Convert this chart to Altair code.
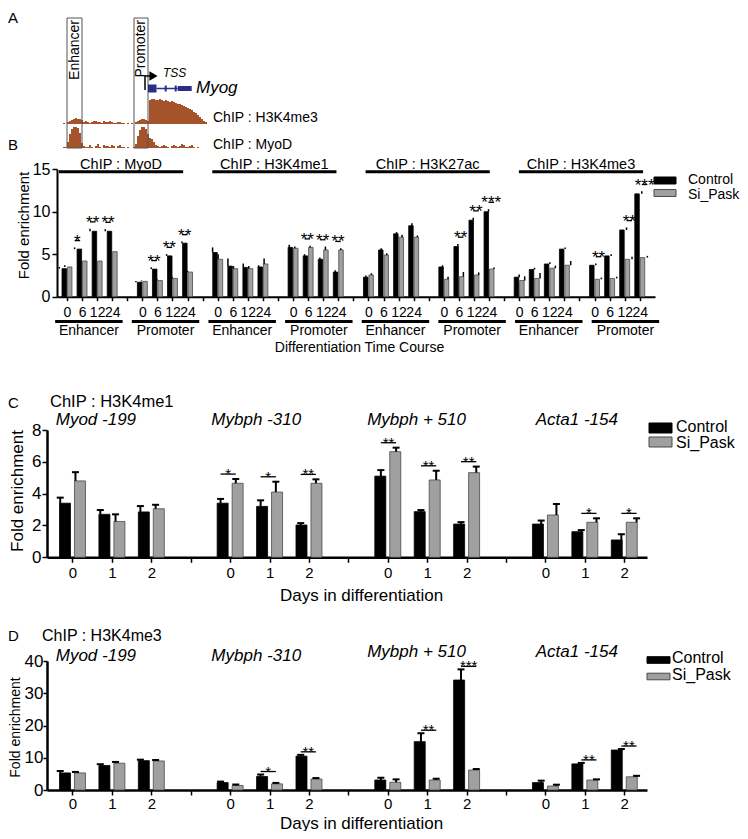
import altair as alt
import pandas as pd

FONT = "Liberation Sans"
W, H = 732, 823
COND = ["Control", "Si_Pask"]
FILL = ["#000000", "#a0a0a0"]
EDGE = ["#000000", "#4a4a4a"]
FILL_SCALE = alt.Scale(domain=COND, range=FILL)
EDGE_SCALE = alt.Scale(domain=COND, range=EDGE)

# ---------------- Panel A : genome browser schematic ----------------
A_BOX_LABELS = ["Enhancer", "Promoter"]
A_BOX_START = [4, 71]
A_BOX_END = [19, 85]
A_TRACK_LABELS = ["ChIP : H3K4me3", "ChIP : MyoD"]
A_BIN = 2
A_H3K4ME3 = [1, 0, 2, 3, 4, 5, 6, 5, 5, 4,
             2, 3, 2, 1, 2, 3, 3, 2, 2, 1, 3, 2, 2, 3, 2, 1, 1, 2, 2, 1, 1,
             0, 1, 0, 1, 0,
             2, 3, 4, 5, 5, 4, 3,
             24, 25, 25, 24, 24, 25, 24, 23, 24, 23, 22, 23, 22, 21, 20, 20,
             19, 18, 17, 16, 15, 14, 12, 11, 9, 7, 5, 3, 2]
A_MYOD = [1, 1, 6, 14, 19, 21, 21, 20, 15, 5,
          2, 1, 1, 3, 1, 0, 2, 4, 1, 0, 3, 2, 2, 1, 3, 2, 0, 2, 3, 1, 1,
          0, 1, 0, 0, 1,
          4, 12, 18, 21, 21, 19, 14,
          10, 9, 6, 3, 2, 1, 2, 3, 2, 1, 0, 2, 3, 2, 1, 2, 4, 3, 1, 1,
          2, 3, 1, 0, 1, 0, 0, 0, 0]
A_GENE = "Myog"
A_TSS = 82
A_ARROW_END = 88
A_ARROW_HEAD = 90.5
A_EXON_START = [85, 114.7]
A_EXON_END = [93.5, 128.7]
A_SMALL_EXONS = [102.7, 112.7]

# ---------------- Panel B ----------------
B_CHIPS = ["MyoD", "H3K4me1", "H3K27ac", "H3K4me3"]
B_REGIONS = ["Enhancer", "Promoter"]
B_TIMES = ["0", "6", "12", "24"]
B_CTRL = [[3.3, 5.6, 7.7, 7.7], [1.7, 3.25, 4.8, 6.3],
          [5.2, 3.6, 3.45, 3.5], [5.8, 4.8, 4.4, 2.9],
          [2.3, 5.5, 7.4, 8.35], [3.5, 5.9, 9.0, 10.0],
          [2.3, 3.2, 3.85, 5.6], [3.7, 4.8, 7.85, 12.1]]
B_CTRL_ERR = [[0.2, 0.2, 0.3, 0.25], [0.15, 0.2, 0.2, 0.2],
              [0.6, 0.9, 0.45, 0.2], [0.3, 0.2, 0.2, 0.2],
              [0.2, 0.2, 0.2, 0.3], [0.2, 0.3, 0.3, 0.3],
              [0.3, 0.2, 0.2, 0.2], [0.2, 0.2, 0.3, 0.3]]
B_SI = [[3.5, 4.2, 4.2, 5.3], [1.8, 1.9, 2.15, 2.9],
        [4.4, 3.3, 3.3, 3.85], [5.7, 5.8, 5.5, 5.5],
        [2.55, 4.9, 7.0, 7.0], [2.05, 2.35, 2.55, 3.25],
        [1.9, 2.15, 3.35, 3.7], [2.05, 2.15, 4.4, 4.6]]
B_SI_ERR = [[0.2, 0.15, 0.15, 0.15], [0.1, 0.2, 0.2, 0.15],
            [0.6, 0.3, 0.3, 0.65], [0.2, 0.2, 0.4, 0.2],
            [0.2, 0.2, 0.3, 0.2], [0.3, 0.55, 0.3, 0.2],
            [0.5, 0.65, 0.3, 0.5], [0.2, 0.2, 0.3, 0.2]]
B_STARS = [["", "*", "**", "**"], ["", "**", "**", "**"],
           ["", "", "", ""], ["", "**", "**", "**"],
           ["", "", "", ""], ["", "**", "**", "***"],
           ["", "", "", ""], ["**", "", "**", "***"]]

# ---------------- Panel C (H3K4me1) ----------------
GENES = ["Myod -199", "Mybph -310", "Mybph + 510", "Acta1 -154"]
DAYS = ["0", "1", "2"]
C_CTRL = [[3.4, 2.7, 2.85], [3.4, 3.2, 2.03], [5.1, 2.87, 2.09], [2.09, 1.61, 1.09]]
C_CTRL_ERR = [[0.35, 0.27, 0.37], [0.27, 0.38, 0.12], [0.38, 0.1, 0.12], [0.22, 0.1, 0.36]]
C_SI = [[4.8, 2.25, 3.05], [4.65, 4.1, 4.65], [6.64, 4.86, 5.32], [2.66, 2.2, 2.2]]
C_SI_ERR = [[0.55, 0.45, 0.25], [0.27, 0.65, 0.25], [0.25, 0.58, 0.38], [0.69, 0.25, 0.25]]
C_STARS = [["", "", ""], ["*", "*", "**"], ["**", "**", "**"], ["", "*", "*"]]

# ---------------- Panel D (H3K4me3) ----------------
D_CTRL = [[5.3, 7.6, 9.1], [2.3, 4.2, 10.5], [3.1, 15.0, 34.1], [2.3, 8.1, 12.4]]
D_CTRL_ERR = [[0.6, 0.4, 0.3], [0.3, 0.6, 0.4], [0.7, 2.6, 3.3], [0.6, 0.3, 0.3]]
D_SI = [[5.3, 8.3, 9.0], [1.4, 1.9, 3.4], [2.4, 3.1, 6.2], [1.25, 3.1, 4.1]]
D_SI_ERR = [[0.3, 0.4, 0.3], [0.3, 0.3, 0.3], [0.9, 0.4, 0.3], [0.4, 0.2, 0.3]]
D_STARS = [["", "", ""], ["", "*", "**"], ["", "**", "***"], ["", "**", "**"]]


def S(domain, rng):
    return alt.Scale(domain=domain, range=rng, nice=False, zero=False)


def label(text, x, y, size, **kw):
    df = pd.DataFrame({"t": [text]})
    return alt.Chart(df).mark_text(fontSize=size, color="black", **kw).encode(
        text="t:N", x=alt.value(x), y=alt.value(y))


def cycle_expr(labels, period):
    expr = "''"
    for i in reversed(range(len(labels))):
        expr = f"(datum.value % {period} == {i}) ? '{labels[i]}' : ({expr})"
    return expr


def legend(sym_x, sym_ys, w, h, txt_x, txt_ys, font):
    df = pd.DataFrame({"cond": COND})
    r = round(h / w, 3)
    path = f"M-1,-{r}H1V{r}H-1Z"
    sym = alt.Chart(df).mark_point(shape=path, size=w * w, filled=True, opacity=1,
                                   strokeWidth=1).encode(
        x=alt.value(sym_x),
        y=alt.Y("cond:N", scale=alt.Scale(type="point", domain=COND, range=sym_ys, padding=0), axis=None),
        fill=alt.Fill("cond:N", scale=FILL_SCALE, legend=None),
        stroke=alt.Stroke("cond:N", scale=EDGE_SCALE, legend=None))
    txt = alt.Chart(df).mark_text(align="left", baseline="middle", fontSize=font, color="black").encode(
        x=alt.value(txt_x),
        y=alt.Y("cond:N", scale=alt.Scale(type="point", domain=COND, range=txt_ys, padding=0), axis=None),
        text="cond:N")
    return [sym, txt]


def bar_panel(ctrl, ctrl_err, si, si_err, stars, nper, period, xs, ys, bar_w, off,
              xaxis, yaxis, gap, star_font, star_dy, err_w, cap):
    rows, srows = [], []
    for g in range(len(ctrl)):
        for t in range(nper):
            slot = g * period + t
            tops = []
            for cond, v, e, o in (("Control", ctrl, ctrl_err, -off), ("Si_Pask", si, si_err, off)):
                rows.append(dict(slot=slot, cond=cond, xpos=slot + o, val=v[g][t],
                                 top=v[g][t] + e[g][t]))
                tops.append(v[g][t] + e[g][t])
            if stars[g][t]:
                srows.append(dict(x1=slot - off, x2=slot + off, xm=slot,
                                  yl=max(tops) + gap, s=stars[g][t]))
    df = pd.DataFrame(rows)
    sdf = pd.DataFrame(srows)
    layers = []
    layers.append(alt.Chart(df).mark_bar(orient="vertical", size=bar_w, strokeWidth=0.8).encode(
        x=alt.X("xpos:Q", scale=xs, axis=xaxis),
        y=alt.Y("val:Q", scale=ys, axis=yaxis),
        y2=alt.datum(0),
        fill=alt.Fill("cond:N", scale=FILL_SCALE, legend=None),
        stroke=alt.Stroke("cond:N", scale=EDGE_SCALE, legend=None)))
    layers.append(alt.Chart(df).mark_rule(color="black", strokeWidth=err_w).encode(
        x=alt.X("xpos:Q", scale=xs, axis=None),
        y=alt.Y("val:Q", scale=ys, axis=None), y2="top:Q"))
    if cap:
        layers.append(alt.Chart(df).mark_tick(orient="horizontal", color="black", size=cap,
                                              thickness=2, opacity=1).encode(
            x=alt.X("xpos:Q", scale=xs, axis=None),
            y=alt.Y("top:Q", scale=ys, axis=None)))
    if len(sdf):
        layers.append(alt.Chart(sdf).mark_rule(color="black", strokeWidth=1.3).encode(
            x=alt.X("x1:Q", scale=xs, axis=None), x2="x2:Q",
            y=alt.Y("yl:Q", scale=ys, axis=None)))
        layers.append(alt.Chart(sdf).mark_text(fontSize=star_font, dy=star_dy, baseline="alphabetic",
                                               color="black").encode(
            x=alt.X("xm:Q", scale=xs, axis=None),
            y=alt.Y("yl:Q", scale=ys, axis=None), text="s:N"))
    return layers


layers = []

# ======== Panel A ========
A_X = S([0, 150], [55, 205])
for vals, yr, in ((A_H3K4ME3, [116, 91]), (A_MYOD, [140, 115])):
    tdf = pd.DataFrame({"start": [i * A_BIN for i in range(len(vals))], "h": vals})
    tdf["end"] = tdf["start"] + A_BIN
    layers.append(alt.Chart(tdf).mark_bar(color="#a4532b").encode(
        x=alt.X("start:Q", scale=A_X, axis=None), x2="end:Q",
        y=alt.Y("h:Q", scale=S([0, 25], yr), axis=None), y2=alt.datum(0)))

box_df = pd.DataFrame({"label": A_BOX_LABELS, "start": A_BOX_START, "end": A_BOX_END})
box_df["mid"] = (box_df["start"] + box_df["end"]) / 2
layers.append(alt.Chart(box_df).mark_rect(fill="white", fillOpacity=0, stroke="#555555",
                                          strokeWidth=1).encode(
    x=alt.X("start:Q", scale=A_X, axis=None), x2="end:Q",
    y=alt.value(10), y2=alt.value(140)))
layers.append(alt.Chart(box_df).mark_text(angle=270, align="right", baseline="middle",
                                          fontSize=14, color="black").encode(
    x=alt.X("mid:Q", scale=A_X, axis=None), y=alt.value(12), text="label:N"))

tss_df = pd.DataFrame({"tss": [A_TSS], "end": [A_ARROW_END], "head": [A_ARROW_HEAD], "t": ["TSS"]})
layers.append(alt.Chart(tss_df).mark_rule(color="black", strokeWidth=1.5).encode(
    x=alt.X("tss:Q", scale=A_X, axis=None), y=alt.value(68), y2=alt.value(82)))
layers.append(alt.Chart(tss_df).mark_rule(color="black", strokeWidth=1.5).encode(
    x=alt.X("tss:Q", scale=A_X, axis=None), x2="end:Q", y=alt.value(68)))
layers.append(alt.Chart(tss_df).mark_point(shape="triangle-right", filled=True, size=90,
                                           color="black", opacity=1).encode(
    x=alt.X("head:Q", scale=A_X, axis=None), y=alt.value(68)))

gene_df = pd.DataFrame({"start": A_EXON_START, "end": A_EXON_END})
layers.append(alt.Chart(gene_df.iloc[[0]]).mark_rect(color="#2a2f86").encode(
    x=alt.X("start:Q", scale=A_X, axis=None), x2="end:Q", y=alt.value(76.5), y2=alt.value(84.5)))
layers.append(alt.Chart(gene_df.iloc[[1]]).mark_rect(color="#2a2f86").encode(
    x=alt.X("start:Q", scale=A_X, axis=None), x2="end:Q", y=alt.value(78), y2=alt.value(83)))
intron_df = pd.DataFrame({"a": [A_EXON_END[0]], "b": [A_EXON_START[1]]})
layers.append(alt.Chart(intron_df).mark_rule(color="#2a2f86", strokeWidth=1.5).encode(
    x=alt.X("a:Q", scale=A_X, axis=None), x2="b:Q", y=alt.value(80.5)))
small_df = pd.DataFrame({"p": A_SMALL_EXONS})
layers.append(alt.Chart(small_df).mark_rule(color="#2a2f86", strokeWidth=2).encode(
    x=alt.X("p:Q", scale=A_X, axis=None), y=alt.value(77.5), y2=alt.value(83.5)))

txtA = pd.DataFrame({"t": ["TSS", A_GENE] + A_TRACK_LABELS,
                     "x": [100, 133, 150, 150]})
for i, (sz, yy, st) in enumerate(((12, 65, "italic"), (17, 80, "italic"),
                                  (14, 110, "normal"), (14, 137, "normal"))):
    layers.append(alt.Chart(txtA.iloc[[i]]).mark_text(align="left", baseline="middle", fontSize=sz,
                                                      fontStyle=st, color="black").encode(
        x=alt.X("x:Q", scale=A_X, axis=None), y=alt.value(yy), text="t:N"))

layers.append(label("A", 0, 3, 15, align="left", baseline="top"))

# ======== Panel B ========
B_X = S([-0.33, 38.68], [49, 647])
B_Y = S([0, 15], [288.7, 161.2])
xaxisB = alt.Axis(orient="bottom", offset=288.7 - H, values=list(range(39)),
                  labelExpr=cycle_expr(B_TIMES, 5), labelFontSize=14, labelOverlap=False,
                  labelFlush=False, tickSize=4, tickWidth=1.5, domainWidth=2, labelPadding=5,
                  title="Differentiation Time Course", titleFontSize=14, titleX=351, titleY=51,
                  titleBaseline="middle", titleAlign="center")
yaxisB = alt.Axis(orient="left", offset=-49, values=[0, 5, 10, 15], labelFontSize=16, tickSize=5,
                  tickWidth=1.5, domainWidth=2, labelPadding=2, title="Fold enrichment",
                  titleFontSize=15, titleX=-34, titleY=217, titleAngle=270,
                  titleBaseline="middle", titleAlign="center")
layers += bar_panel(B_CTRL, B_CTRL_ERR, B_SI, B_SI_ERR, B_STARS, 4, 5, B_X, B_Y, 4.5, 0.18,
                    xaxisB, yaxisB, 0.8, 17, 6, 1.5, 0)

chip_df = pd.DataFrame({"name": ["ChIP : " + c for c in B_CHIPS],
                        "g": list(range(len(B_CHIPS)))})
chip_df["x1"] = chip_df["g"] * 10 - 0.2
chip_df["x2"] = chip_df["g"] * 10 + 7.9
chip_df["xm"] = (chip_df["x1"] + chip_df["x2"]) / 2
layers.append(alt.Chart(chip_df).mark_rule(color="black", strokeWidth=3).encode(
    x=alt.X("x1:Q", scale=B_X, axis=None), x2="x2:Q", y=alt.value(163.7)))
layers.append(alt.Chart(chip_df).mark_text(fontSize=14.5, baseline="middle", color="black").encode(
    x=alt.X("xm:Q", scale=B_X, axis=None), y=alt.value(156.5), text="name:N"))

reg_df = pd.DataFrame({"name": B_REGIONS * len(B_CHIPS), "r": list(range(2 * len(B_CHIPS)))})
reg_df["x1"] = reg_df["r"] * 5 - 0.45
reg_df["x2"] = reg_df["r"] * 5 + 3.95
reg_df["xm"] = reg_df["r"] * 5 + 1.75
layers.append(alt.Chart(reg_df).mark_rule(color="black", strokeWidth=3).encode(
    x=alt.X("x1:Q", scale=B_X, axis=None), x2="x2:Q", y=alt.value(313.5)))
layers.append(alt.Chart(reg_df).mark_text(fontSize=14, baseline="middle", color="black").encode(
    x=alt.X("xm:Q", scale=B_X, axis=None), y=alt.value(322.5), text="name:N"))
layers += legend(657, [172.5, 185], 22, 7, 680, [172, 187], 14)
layers.append(label("B", 0, 137, 15, align="left", baseline="middle"))

# ======== Panels C and D ========
CD_X = S([-0.52, 14.45], [39, 639])


def gene_labels(ys):
    gdf = pd.DataFrame({"gene": GENES, "g": list(range(len(GENES)))})
    gdf["xm"] = gdf["g"] * 4 + 1 - 0.3
    out = []
    for i, y in enumerate(ys):
        out.append(alt.Chart(gdf.iloc[[i]]).mark_text(fontSize=17, fontStyle="italic",
                                                      baseline="middle", color="black").encode(
            x=alt.X("xm:Q", scale=CD_X, axis=None), y=alt.value(y), text="gene:N"))
    return out


def cd_xaxis(axis_y, title_y, pad):
    return alt.Axis(orient="bottom", offset=axis_y - H, values=list(range(15)),
                    labelExpr=cycle_expr(DAYS, 4), labelFontSize=15, labelOverlap=False,
                    labelFlush=False, tickSize=5, tickWidth=1.5, domainWidth=2.5, labelPadding=pad,
                    title="Days in differentiation", titleFontSize=17, titleX=353, titleY=title_y,
                    titleBaseline="middle", titleAlign="center")


C_Y = S([0, 8], [549.3, 422])
yaxisC = alt.Axis(orient="left", offset=-39, values=[0, 2, 4, 6, 8], labelFontSize=17, tickSize=5,
                  tickWidth=1.5, domainWidth=2.5, labelPadding=1, title="Fold enrichment",
                  titleFontSize=17, titleX=-30, titleY=482.5, titleAngle=270,
                  titleBaseline="middle", titleAlign="center")
layers += bar_panel(C_CTRL, C_CTRL_ERR, C_SI, C_SI_ERR, C_STARS, 3, 4, CD_X, C_Y, 11, 0.19,
                    cd_xaxis(549.3, 38, 3), yaxisC, 0.31, 15, 5, 2, 7)
layers += gene_labels([412, 412, 412, 412])
layers.append(label("ChIP : H3K4me1", 42, 394, 16.5, align="left", baseline="middle"))
layers.append(label("C", 0, 395, 15, align="left", baseline="middle"))
layers += legend(652.5, [420, 434], 23, 10, 668, [419, 435], 16)

D_Y = S([0, 40], [782, 653])
yaxisD = alt.Axis(orient="left", offset=-39, values=[0, 10, 20, 30, 40], labelFontSize=17,
                  tickSize=4, tickWidth=1.5, domainWidth=2.5, labelPadding=0, title="Fold enrichment",
                  titleFontSize=14, titleX=-32, titleY=719, titleAngle=270,
                  titleBaseline="middle", titleAlign="center")
layers += bar_panel(D_CTRL, D_CTRL_ERR, D_SI, D_SI_ERR, D_STARS, 3, 4, CD_X, D_Y, 11, 0.19,
                    cd_xaxis(782, 33, 1), yaxisD, 0.93, 15, 5, 2, 7)
layers += gene_labels([648, 648, 644, 644])
layers.append(label("ChIP : H3K4me3", 34, 628, 16, align="left", baseline="middle"))
layers.append(label("D", 0, 628, 15, align="left", baseline="middle"))
layers += legend(650.5, [652, 668.5], 23, 6.6, 664, [650.3, 666.5], 16)

chart = alt.layer(*layers).resolve_scale(
    x="independent", y="independent"
).properties(
    width=W, height=H, padding=0, autosize=alt.AutoSizeParams(type="none")
).configure(font=FONT).configure_view(stroke=None).configure_axis(
    grid=False, domainColor="black", tickColor="black", labelColor="black",
    titleColor="black", titleFontWeight="normal", labelFont=FONT, titleFont=FONT
)

chart.save("out.html", embed_options={"renderer": "svg", "actions": False})
